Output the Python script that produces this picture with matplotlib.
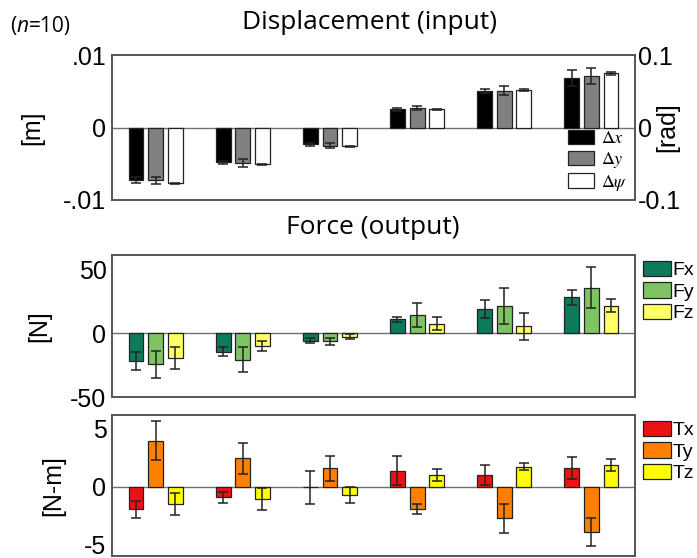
import numpy as np
import matplotlib
matplotlib.use('Agg')
import matplotlib.pyplot as plt

plt.rcParams['font.family'] = ['Liberation Sans', 'DejaVu Sans']
plt.rcParams['mathtext.fontset'] = 'stix'
plt.rcParams['axes.unicode_minus'] = False

# Данні: середні значення та похибки для 6 рівнів вхідного зміщення
groups = np.arange(6)

disp_labels = [r'$\Delta x$', r'$\Delta y$', r'$\Delta \psi$']
disp_mean = [
    [-0.0072, -0.0048, -0.0023, 0.0025, 0.0050, 0.0068],
    [-0.0073, -0.0049, -0.0025, 0.0027, 0.0051, 0.0071],
    [-0.0077, -0.0051, -0.0026, 0.0025, 0.0052, 0.0075],
]
disp_err = [
    [0.0004, 0.0002, 0.0002, 0.0002, 0.0003, 0.0011],
    [0.0005, 0.0006, 0.0003, 0.0003, 0.0006, 0.0011],
    [0.0001, 0.0001, 0.0001, 0.0001, 0.0001, 0.0002],
]
disp_colors = ['black', '#808080', 'white']

force_labels = ['Fx', 'Fy', 'Fz']
force_mean = [
    [-22, -14.6, -6, 10.7, 19, 28],
    [-24.5, -20.8, -6.5, 14, 21, 35.5],
    [-19.5, -10, -3, 7.3, 5.2, 21.4],
]
force_err = [
    [7, 3.5, 2, 2.2, 7, 5.7],
    [10.7, 10, 3, 9.4, 14, 15.8],
    [8.7, 4, 2, 5, 10.4, 5.2],
]
force_colors = ['#0d7a5c', '#7fc463', '#ffff66']

torque_labels = ['Tx', 'Ty', 'Tz']
torque_mean = [
    [-1.96, -0.92, -0.05, 1.39, 1.01, 1.59],
    [3.99, 2.46, 1.59, -1.96, -2.74, -3.9],
    [-1.53, -1.1, -0.72, 1.01, 1.73, 1.88],
]
torque_err = [
    [0.72, 0.48, 1.44, 1.29, 0.87, 0.94],
    [1.66, 1.33, 1.1, 0.45, 1.23, 1.23],
    [0.94, 0.94, 0.7, 0.49, 0.33, 0.5],
]
torque_colors = ['#ee1111', '#ff7f00', '#ffff00']

offsets = [-0.225, 0, 0.225]
width = 0.17

fig = plt.figure(figsize=(6.97, 5.58), dpi=100)
ax1 = fig.add_axes([0.1607, 0.6416, 0.7504, 0.2598])
ax2 = fig.add_axes([0.1607, 0.2885, 0.7504, 0.2545])
ax3 = fig.add_axes([0.1607, 0.0036, 0.7504, 0.2527])


def draw(ax, means, errs, colors, labels):
    ax.axhline(0, color='#707070', lw=1, zorder=1)
    for i in range(3):
        ax.bar(groups + offsets[i], means[i], width, color=colors[i],
               edgecolor='#222222', linewidth=0.9, label=labels[i], zorder=2)
        ax.errorbar(groups + offsets[i], means[i], yerr=errs[i], fmt='none',
                    ecolor='#222222', elinewidth=1.1, capsize=3.5, capthick=1.1, zorder=3)
    ax.set_xlim(-0.5, 5.5)
    ax.set_xticks([])
    ax.tick_params(axis='y', length=0, labelsize=18, pad=4)
    for s in ax.spines.values():
        s.set_color('#555555')
        s.set_linewidth(1.4)


leg_kw = dict(frameon=False, handlelength=1.4, handleheight=0.85, labelspacing=0.15,
              borderpad=0.1)

# Верхній графік: зміщення
draw(ax1, disp_mean, disp_err, disp_colors, disp_labels)
ax1.set_ylim(-0.01, 0.01)
ax1.set_yticks([-0.01, 0, 0.01])
ax1.set_yticklabels(['-.01', '0', '.01'])
ax1.set_ylabel('[m]', fontsize=18, labelpad=14)
ax1r = ax1.twinx()
ax1r.set_ylim(-0.1, 0.1)
ax1r.set_yticks([-0.1, 0, 0.1])
ax1r.set_yticklabels(['-0.1', '0', '0.1'])
ax1r.tick_params(axis='y', length=0, labelsize=18, pad=2)
for s in ax1r.spines.values():
    s.set_visible(False)
fig.text(0.958, 0.772, '[rad]', fontsize=18, rotation=90, ha='center', va='center')
ax1.legend(loc='lower right', fontsize=13, handletextpad=0.4,
           borderaxespad=0.3, **leg_kw)

# Середній графік: сили
draw(ax2, force_mean, force_err, force_colors, force_labels)
ax2.set_ylim(-50, 61)
ax2.set_yticks([-50, 0, 50])
ax2.set_ylabel('[N]', fontsize=18, labelpad=14)
ax2.legend(loc='upper left', bbox_to_anchor=(1.005, 1.0), fontsize=14,
           handletextpad=0.1, borderaxespad=0.2, **leg_kw)

# Нижній графік: моменти
draw(ax3, torque_mean, torque_err, torque_colors, torque_labels)
ax3.set_ylim(-6, 6.2)
ax3.set_yticks([-5, 0, 5])
ax3.set_ylabel('[N-m]', fontsize=18, labelpad=14)
ax3.legend(loc='upper left', bbox_to_anchor=(1.005, 1.0), fontsize=14,
           handletextpad=0.1, borderaxespad=0.2, **leg_kw)

# (n=10) з курсивною n у тому ж шрифті
t1 = fig.text(0.015, 0.953, '(', fontsize=15, va='center', family='Open Sans')
t2 = fig.text(0, 0, 'n', fontsize=15, va='center', family='Open Sans', style='italic')
t3 = fig.text(0, 0, '=10)', fontsize=15, va='center', family='Open Sans')
fig.canvas.draw()
r = fig.canvas.get_renderer()
bb1 = t1.get_window_extent(r)
t2.set_position((bb1.x1 / fig.bbox.width, 0.953))
bb2 = t2.get_window_extent(r)
t3.set_position((bb2.x1 / fig.bbox.width, 0.953))

fig.text(0.53, 0.96, 'Displacement (input)', fontsize=19, ha='center', va='center',
         family='Open Sans')
fig.text(0.535, 0.592, 'Force (output)', fontsize=19, ha='center', va='center',
         family='Open Sans')

fig.savefig('out.png', dpi=100)
